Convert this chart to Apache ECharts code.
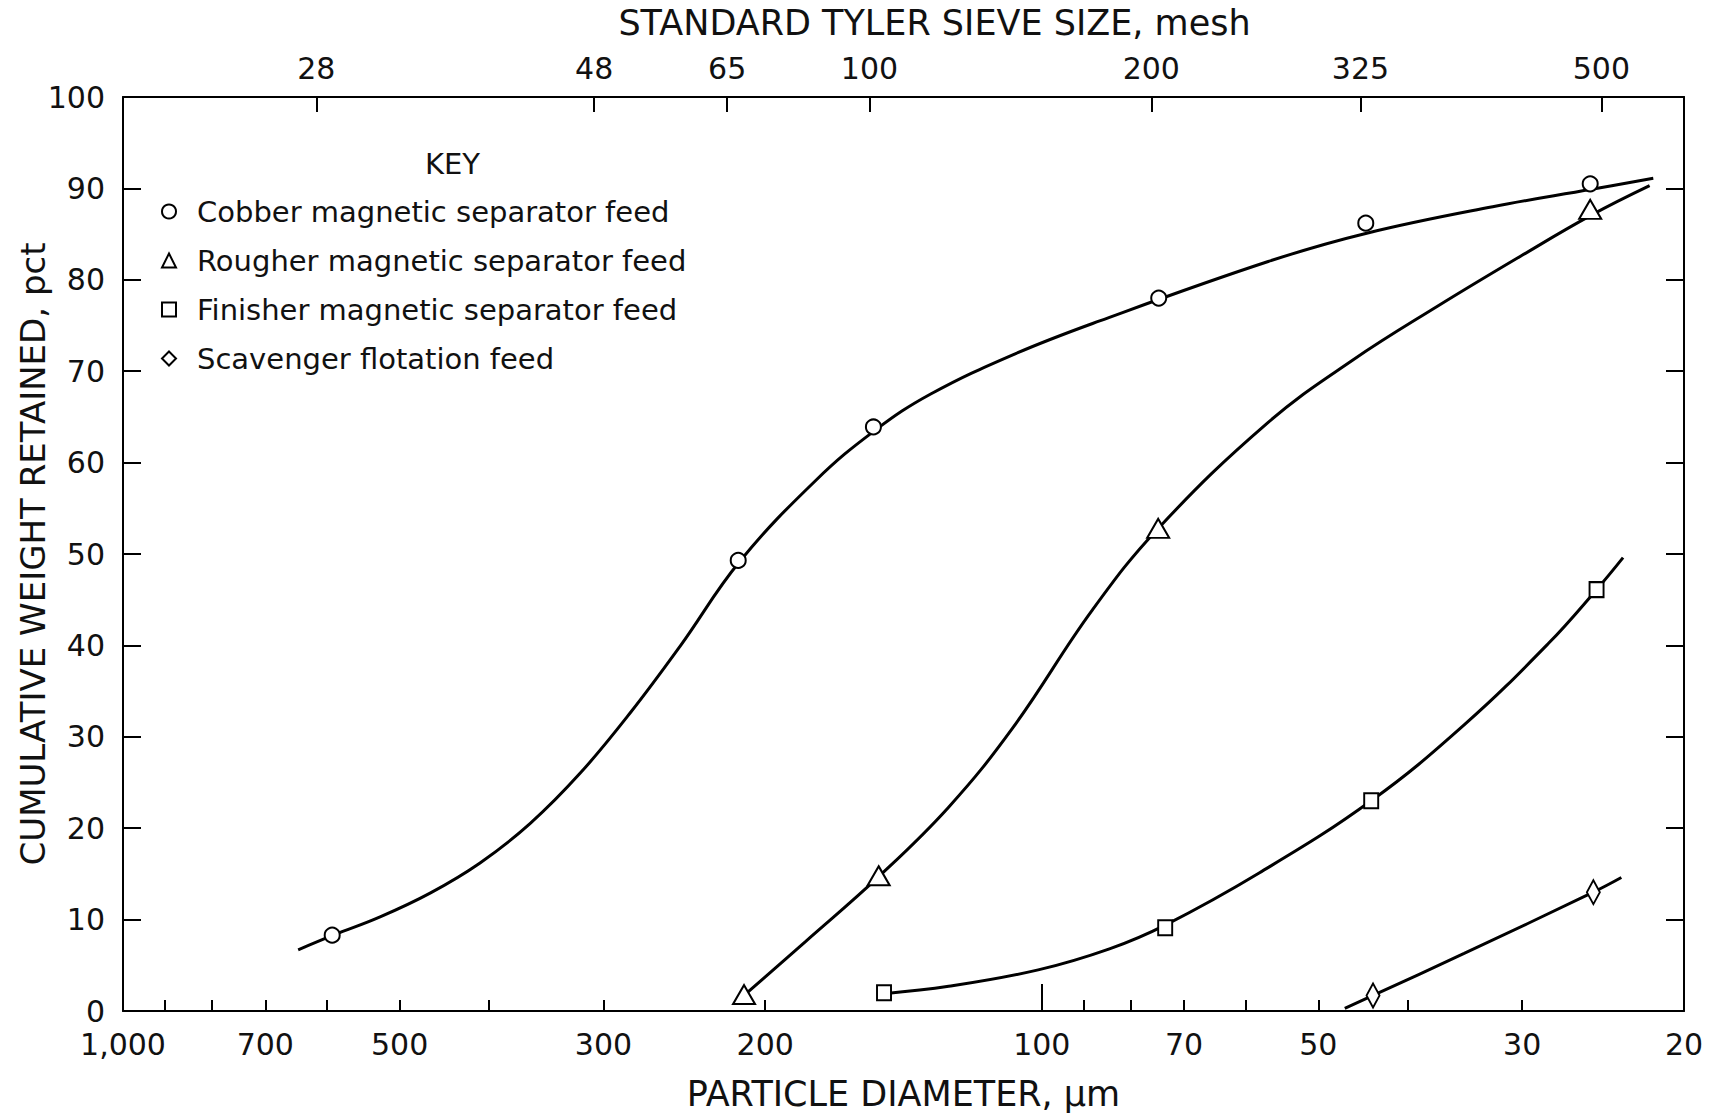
<!DOCTYPE html>
<html>
<head>
<meta charset="utf-8">
<script src="https://cdn.jsdelivr.net/npm/echarts@6/dist/echarts.min.js"></script>
<style>
  html, body { margin: 0; padding: 0; background: #fff; }
  #chart { width: 1727px; height: 1113px; }
</style>
</head>
<body>
<div id="chart"></div>
<script>
// ---------- data (particle diameter in µm, cumulative weight retained in pct) ----------
const seriesNames = [
  'Cobber magnetic separator feed',
  'Rougher magnetic separator feed',
  'Finisher magnetic separator feed',
  'Scavenger flotation feed'
];

// measured points
const cobberSize = [592, 214, 152.5, 74.6, 44.4, 25.3];
const cobberPct = [8.3, 49.3, 63.9, 78.0, 86.2, 90.5];
const rougherSize = [210.9, 150.5, 74.7, 25.3];
const rougherPct = [1.8, 14.8, 52.8, 87.7];
const finisherSize = [148.5, 73.4, 43.8, 24.9];
const finisherPct = [2.0, 9.1, 23.0, 46.1];
const scavengerSize = [43.6, 25.1];
const scavengerPct = [1.7, 13.0];

// hand-drawn fitted curves
const cobberCurveSize = [644.7, 590.3, 525, 463.2, 408.7, 360.6, 318.1, 280.6, 247.6, 213.1, 176, 152, 132.1, 106.9, 86.5, 56.7, 44.3, 32.3, 25.2, 21.6];
const cobberCurvePct = [6.7, 8.3, 10.3, 12.9, 16.2, 20.5, 26.0, 32.6, 39.9, 49.2, 58.1, 63.5, 67.5, 71.9, 75.5, 82.0, 85.1, 88.0, 89.9, 91.1];
const rougherCurveSize = [210.9, 180.8, 150.5, 126.3, 107.5, 88.2, 74.7, 56.7, 45.9, 37.1, 30.1, 25.2, 21.8];
const rougherCurvePct = [1.7, 7.6, 14.7, 22.3, 31.0, 43.8, 52.8, 64.4, 71.2, 77.1, 82.6, 87.1, 90.3];
const finisherCurveSize = [148.5, 126.3, 100.9, 84.4, 73.4, 58.0, 43.8, 34.7, 28.1, 24.9, 23.3];
const finisherCurvePct = [1.9, 2.7, 4.5, 6.8, 9.4, 15.1, 23.0, 31.3, 40.2, 46.1, 49.6];
const scavengerCurveSize = [46.8, 43.6, 34.7, 25.1, 23.4];
const scavengerCurvePct = [0.3, 1.7, 6.3, 13.0, 14.6];

// axes
const sizeMin = 20, sizeMax = 1000;
const sizeTicks = [1000, 900, 800, 700, 600, 500, 400, 300, 200, 100, 90, 80, 70, 60, 50, 40, 30, 20];
const sizeLabels = [1000, 700, 500, 300, 200, 100, 70, 50, 30, 20];
const sizeLongTicks = [100];
const meshLabels = ['28', '48', '65', '100', '200', '325', '500'];
const meshSizes = [616, 307, 220, 154, 76, 45, 24.6];
const pctMin = 0, pctMax = 100, pctStep = 10;

// ---------- chart ----------
const FONT = 'DejaVu Sans';
const INK = '#111';
const lg = v => Math.log10(v);
const pairs = (xs, ys) => xs.map((x, i) => [x, ys[i]]);

const chart = echarts.init(document.getElementById('chart'), null, { renderer: 'svg' });

const logAxisBase = {
  type: 'value', min: lg(sizeMin), max: lg(sizeMax), inverse: true,
  splitLine: { show: false }
};

function lineSeries(name, xs, ys) {
  return {
    name: name, type: 'line', xAxisIndex: 0, yAxisIndex: 0,
    data: pairs(xs, ys), smooth: 0.4, symbol: 'none', silent: true, z: 2,
    lineStyle: { color: '#000', width: 3 }
  };
}
function pointSeries(name, xs, ys, symbol, size) {
  return {
    name: name, type: 'scatter', xAxisIndex: 0, yAxisIndex: 0,
    data: pairs(xs, ys), symbol: symbol, symbolSize: size, z: 4,
    itemStyle: { color: '#fff', borderColor: '#000', borderWidth: 2, opacity: 1 }
  };
}

const option = {
  animation: false,
  backgroundColor: '#fff',
  textStyle: { fontFamily: FONT, color: INK },
  title: {
    text: 'KEY', left: 420, top: 144,
    textStyle: { fontFamily: FONT, fontSize: 29, fontWeight: 'normal', color: INK }
  },
  legend: {
    data: seriesNames, orient: 'vertical', left: 156, top: 191,
    itemWidth: 14, itemHeight: 14, itemGap: 18,
    textStyle: { fontFamily: FONT, fontSize: 29, lineHeight: 31, color: INK, padding: [0, 0, 0, 16] },
    itemStyle: { color: '#fff', borderColor: '#000', borderWidth: 2 }
  },
  grid: { left: 123, right: 43, top: 97, bottom: 102, containLabel: false, outerBoundsMode: 'none' },
  xAxis: [
    { // data axis (log scale of particle diameter)
      type: 'log', logBase: 10, min: sizeMin, max: sizeMax, inverse: true, position: 'bottom',
      axisLine: { show: true, onZero: false, lineStyle: { color: '#000', width: 2 } },
      axisTick: { show: false }, axisLabel: { show: false },
      splitLine: { show: false }, minorSplitLine: { show: false }
    },
    Object.assign({}, logAxisBase, { // bottom ticks and labels
      position: 'bottom',
      axisLine: { show: false, onZero: false },
      axisTick: { show: true, inside: true, length: 11, customValues: sizeTicks.map(lg),
        lineStyle: { color: '#000', width: 2 } },
      axisLabel: {
        show: true, customValues: sizeLabels.map(lg), margin: 18,
        fontFamily: FONT, fontSize: 30, color: INK,
        formatter: v => { const d = Math.round(Math.pow(10, v)); return d === 1000 ? '1,000' : String(d); }
      },
      name: 'PARTICLE DIAMETER, µm', nameLocation: 'middle', nameGap: 65, nameMoveOverlap: false,
      nameTextStyle: { fontFamily: FONT, fontSize: 35, color: INK }
    }),
    Object.assign({}, logAxisBase, { // long tick at 100 µm
      position: 'bottom',
      axisLine: { show: false, onZero: false },
      axisTick: { show: true, inside: true, length: 27, customValues: sizeLongTicks.map(lg),
        lineStyle: { color: '#000', width: 2 } },
      axisLabel: { show: false }
    }),
    Object.assign({}, logAxisBase, { // top: Tyler mesh
      position: 'top',
      axisLine: { show: true, onZero: false, lineStyle: { color: '#000', width: 2 } },
      axisTick: { show: true, inside: true, length: 15, customValues: meshSizes.map(lg),
        lineStyle: { color: '#000', width: 2 } },
      axisLabel: {
        show: true, customValues: meshSizes.map(lg), margin: 14,
        fontFamily: FONT, fontSize: 30, color: INK,
        formatter: v => {
          let best = 0;
          meshSizes.forEach((s, i) => { if (Math.abs(lg(s) - v) < Math.abs(lg(meshSizes[best]) - v)) best = i; });
          return meshLabels[best];
        }
      },
      name: 'STANDARD TYLER SIEVE SIZE, mesh', nameLocation: 'middle', nameGap: 57, nameMoveOverlap: false,
      nameTextStyle: { fontFamily: FONT, fontSize: 35, color: INK, padding: [0, 0, 0, 62] }
    })
  ],
  yAxis: [
    {
      type: 'value', min: pctMin, max: pctMax, interval: pctStep, position: 'left',
      axisLine: { show: true, onZero: false, lineStyle: { color: '#000', width: 2 } },
      axisTick: { show: true, inside: true, length: 18, lineStyle: { color: '#000', width: 2 } },
      axisLabel: { fontFamily: FONT, fontSize: 30, color: INK, margin: 18 },
      splitLine: { show: false },
      name: 'CUMULATIVE WEIGHT RETAINED, pct', nameLocation: 'middle', nameGap: 73, nameMoveOverlap: false,
      nameTextStyle: { fontFamily: FONT, fontSize: 34, color: INK }
    },
    {
      type: 'value', min: pctMin, max: pctMax, interval: pctStep, position: 'right',
      axisLine: { show: true, onZero: false, lineStyle: { color: '#000', width: 2 } },
      axisTick: { show: true, inside: true, length: 18, lineStyle: { color: '#000', width: 2 } },
      axisLabel: { show: false },
      splitLine: { show: false }
    }
  ],
  series: [
    lineSeries('Cobber curve', cobberCurveSize, cobberCurvePct),
    lineSeries('Rougher curve', rougherCurveSize, rougherCurvePct),
    lineSeries('Finisher curve', finisherCurveSize, finisherCurvePct),
    lineSeries('Scavenger curve', scavengerCurveSize, scavengerCurvePct),
    pointSeries(seriesNames[0], cobberSize, cobberPct, 'circle', 15),
    pointSeries(seriesNames[1], rougherSize, rougherPct, 'triangle', [22, 19]),
    pointSeries(seriesNames[2], finisherSize, finisherPct, 'rect', [14, 15]),
    pointSeries(seriesNames[3], scavengerSize, scavengerPct, 'diamond', [13, 24])
  ]
};
chart.setOption(option);
</script>
</body>
</html>
